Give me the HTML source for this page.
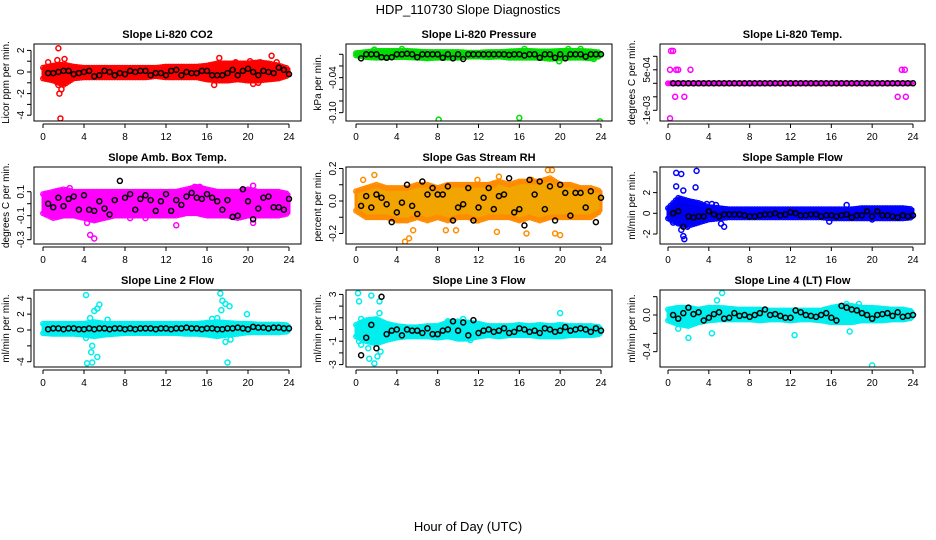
<!DOCTYPE html>
<html><head><meta charset="utf-8"><style>
html,body{margin:0;padding:0;background:#fff;}
svg{display:block;font-family:"Liberation Sans",Arial,sans-serif;}
</style></head><body>
<svg id="chart" width="936" height="540" viewBox="0 0 936 540" xmlns="http://www.w3.org/2000/svg">
<text x="468" y="14" text-anchor="middle" font-size="13">HDP_110730  Slope Diagnostics</text>
<text x="468" y="531" text-anchor="middle" font-size="13">Hour of Day (UTC)</text>
</svg>
<script>
const xTicks = [0,4,8,12,16,20,24];
const blackHours = [0.5,1,1.5,2,2.5,3,3.5,4,4.5,5,5.5,6,6.5,7,7.5,8,8.5,9,9.5,10,10.5,11,11.5,12,12.5,13,13.5,14,14.5,15,15.5,16,16.5,17,17.5,18,18.5,19,19.5,20,20.5,21,21.5,22,22.5,23,23.5,24];
const bandHours = [0,1,2,3,4,5,6,7,8,9,10,11,12,13,14,15,16,17,18,19,20,21,22,23,24];

const co2Lo = [-0.6,-0.8,-1.2,-0.6,-0.5,-0.5,-0.5,-0.5,-0.5,-0.5,-0.5,-0.4,-0.5,-0.5,-0.5,-0.5,-0.7,-0.8,-0.8,-0.7,-0.8,-0.8,-0.7,-0.6,-0.3];
const co2Hi = [0.4,0.6,0.7,0.5,0.4,0.4,0.4,0.4,0.4,0.4,0.4,0.4,0.5,0.5,0.5,0.5,0.6,0.8,0.8,0.8,0.8,0.9,0.8,0.6,0.3];
const co2Out = [[0.5,0.9],[1.5,2.2],[1.4,1.1],[2.1,1.2],[1.6,-2.0],[1.7,-4.3],[1.8,-1.6],[1.5,-1.2],[17.2,1.3],[16.7,-1.2],[20.5,-1.1],[21,-1],[22.3,1.5],[20.2,1.0],[21.2,0.9],[22.8,0.9],[18.8,0.9],[1.3,-0.9],[2.3,-0.6]];
const co2Black = [-0.1,-0.1,0,0.1,0.1,-0.2,-0.1,0,0.1,-0.4,-0.3,0.1,0,-0.3,-0.1,-0.2,0.1,0,0.1,0.1,-0.3,-0.1,-0.1,-0.3,0.1,0.2,-0.3,0,-0.1,-0.1,0.1,0.1,-0.3,-0.3,-0.3,-0.1,0.2,-0.3,0.1,0.3,0,-0.3,0.1,0,-0.1,0.4,0.2,-0.2];

const presLo = [-0.002,-0.005,-0.006,-0.005,-0.005,-0.005,-0.006,-0.007,-0.006,-0.006,-0.006,-0.004,-0.004,-0.005,-0.004,-0.006,-0.006,-0.006,-0.006,-0.008,-0.007,-0.006,-0.006,-0.007,-0.003];
const presHi = [0.002,0.004,0.006,0.006,0.006,0.006,0.005,0.004,0.004,0.004,0.004,0.003,0.003,0.004,0.004,0.005,0.006,0.006,0.005,0.005,0.006,0.006,0.006,0.005,0.003];
const presOut = [[8.1,-0.112],[16,-0.109],[23.9,-0.115],[19.9,-0.012],[4.5,0.009],[1.8,0.008],[16.5,0.009],[20.8,0.009],[22,0.009],[23.3,-0.008]];
const presBlack = [-0.007,0,0,0,-0.005,-0.006,-0.005,0,0,0.001,0,-0.005,0,0,0,0,-0.006,0,-0.007,0,-0.008,0,0,0,0,0,0,0,0,-0.001,0,0,-0.002,0,0,-0.006,0,0,-0.006,0,-0.007,0,0,0,-0.004,0,0,0];

const tempLo = [0,0,0,0,0,0,0,0,0,0,0,0,0,0,0,0,0,0,0,0,0,0,0,0,0];
const tempHi = [0,0,0,0,0,0,0,0,0,0,0,0,0,0,0,0,0,0,0,0,0,0,0,0,0];
const tempOut = [[0.3,0.0012],[0.5,0.0012],[0.2,0.0005],[0.8,0.0005],[1,0.0005],[2.2,0.0005],[0.7,-0.0005],[1.6,-0.0005],[0.2,-0.0013],[22.5,-0.0005],[23.3,-0.0005],[22.9,0.0005],[23.2,0.0005]];
const tempBlack = [0,0,0,0,0,0,0,0,0,0,0,0,0,0,0,0,0,0,0,0,0,0,0,0,0,0,0,0,0,0,0,0,0,0,0,0,0,0,0,0,0,0,0,0,0,0,0,0];

const ambLo = [-0.08,-0.12,-0.1,-0.1,-0.12,-0.14,-0.12,-0.1,-0.1,-0.1,-0.1,-0.1,-0.1,-0.1,-0.08,-0.08,-0.1,-0.1,-0.1,-0.12,-0.1,-0.1,-0.1,-0.1,-0.08];
const ambHi = [0.08,0.1,0.12,0.1,0.1,0.1,0.1,0.1,0.1,0.1,0.1,0.1,0.1,0.1,0.12,0.14,0.12,0.1,0.1,0.1,0.12,0.1,0.1,0.1,0.08];
const ambOut = [[4.6,-0.26],[5,-0.29],[13,-0.18],[20.5,-0.16],[20.5,0.15],[2.6,0.13],[14.8,0.14],[15.3,0.14],[8.5,-0.12],[0.2,-0.08],[4.3,-0.16],[10,-0.12]];
const ambBlack = [0.0,-0.03,0.05,-0.02,0.04,0.06,-0.05,0.07,-0.05,-0.06,0.02,-0.04,-0.09,0.03,0.19,0.05,0.08,-0.05,0.04,0.07,0.03,-0.06,0.02,0.08,-0.06,0.03,-0.01,0.06,0.09,0.05,0.04,0.08,0.05,0.02,-0.05,0.03,-0.11,-0.1,0.12,0.02,-0.13,-0.04,0.05,0.06,-0.03,-0.03,-0.05,0.04];

const rhLo = [-0.06,-0.1,-0.1,-0.1,-0.12,-0.12,-0.1,-0.12,-0.1,-0.12,-0.1,-0.1,-0.12,-0.1,-0.1,-0.1,-0.12,-0.1,-0.12,-0.1,-0.1,-0.1,-0.1,-0.1,-0.06];
const rhHi = [0.06,0.08,0.1,0.08,0.08,0.08,0.1,0.1,0.08,0.1,0.1,0.1,0.1,0.1,0.12,0.1,0.12,0.12,0.12,0.14,0.1,0.1,0.08,0.08,0.06];
const rhOut = [[0.7,0.13],[1.8,0.16],[4.8,-0.25],[5.2,-0.23],[5.6,-0.18],[8.8,-0.18],[9.8,-0.18],[11.8,-0.12],[11.9,0.13],[13.5,0.1],[14,0.15],[19.2,0.19],[18.8,0.19],[19.5,-0.2],[20,-0.21],[16.7,-0.2],[13.8,-0.19],[17.2,0.13]];
const rhBlack = [-0.03,0.03,-0.04,0.04,0.02,-0.02,-0.13,-0.07,-0.01,0.1,-0.03,-0.08,0.12,0.04,0.08,0.04,0.04,0.09,-0.12,-0.04,-0.02,0.08,-0.12,-0.04,0.02,0.08,-0.05,0.03,0.04,0.14,-0.07,-0.05,-0.15,0.13,0.04,0.12,-0.05,0.09,-0.12,0.1,0.05,-0.09,0.05,0.05,-0.04,0.06,-0.13,0.02];

const sfLo = [-0.5,-1,-1.2,-0.9,-0.6,-0.5,-0.4,-0.4,-0.4,-0.4,-0.4,-0.4,-0.4,-0.4,-0.4,-0.4,-0.5,-0.5,-0.5,-0.5,-0.5,-0.5,-0.5,-0.5,-0.4];
const sfHi = [0.5,1.5,1.2,1,0.6,0.5,0.4,0.4,0.4,0.4,0.4,0.4,0.4,0.4,0.4,0.4,0.4,0.4,0.4,0.5,0.5,0.5,0.5,0.5,0.4];
const sfOut = [[2.8,4.1],[0.8,3.9],[1.3,3.8],[2.7,2.5],[0.8,2.6],[1.5,2.2],[1.3,-1.6],[1.5,-2.2],[1.6,-2.5],[1.9,-1.3],[3.8,0.9],[4.3,0.9],[4.7,0.8],[5.2,-1.0],[5.5,-1.3],[17.5,0.8],[15.8,-0.8],[20,-0.6],[1.2,-0.9],[0.5,-0.9]];
const sfBlack = [0,0.2,-1.3,-0.3,-0.4,-0.3,-0.3,0.2,-0.1,-0.3,-0.1,-0.1,-0.1,-0.1,-0.2,-0.3,-0.3,-0.2,-0.1,-0.1,0,-0.2,-0.1,0.1,0,-0.2,-0.2,-0.1,-0.1,-0.3,-0.2,-0.2,-0.3,-0.2,-0.1,-0.4,-0.2,-0.2,0.2,-0.3,0.2,-0.2,-0.2,-0.3,-0.4,-0.2,-0.3,-0.2];

const l2Lo = [-0.4,-0.5,-0.5,-0.5,-0.6,-0.8,-0.6,-0.5,-0.4,-0.4,-0.4,-0.4,-0.4,-0.4,-0.5,-0.5,-0.6,-0.8,-0.6,-0.5,-0.3,-0.3,-0.3,-0.3,-0.2];
const l2Hi = [0.8,0.8,0.8,0.8,0.8,1.0,0.8,0.8,0.8,0.8,0.8,0.8,0.8,0.8,0.8,0.8,0.9,1.0,0.9,0.8,0.8,0.7,0.7,0.7,0.6];
const l2Out = [[4.2,4.4],[4.3,-4.2],[4.8,-4.1],[4.8,-2.0],[4.7,-2.8],[5.3,-3.4],[4.6,1.5],[5,2.4],[5.5,3.2],[5.3,2.7],[6.3,1.3],[4.2,-1],[17.3,4.6],[17.5,3.7],[17.4,2.5],[17.8,3.3],[18.2,3.0],[18,-4.1],[17.8,-1.5],[18.3,-1.2],[16.5,1.4],[17,1.5],[19.9,2.0],[16,0.9]];
const l2Black = [0.1,0.2,0.2,0.1,0.2,0.2,0.1,0.1,0.2,0.1,0.2,0.2,0.1,0.2,0.2,0.1,0.2,0.1,0.2,0.2,0.2,0.1,0.2,0.2,0.1,0.2,0.2,0.3,0.2,0.2,0.1,0.2,0.2,0.1,0.1,0.2,0.2,0.3,0.2,0.1,0.4,0.3,0.3,0.2,0.3,0.3,0.2,0.2];

const l3Lo = [-0.6,-1.0,-1.2,-0.9,-0.7,-0.6,-0.6,-0.6,-0.7,-0.6,-0.8,-0.8,-0.6,-0.5,-0.6,-0.5,-0.5,-0.5,-0.6,-0.6,-0.6,-0.5,-0.5,-0.5,-0.4];
const l3Hi = [0.4,0.8,0.9,0.5,0.3,0.2,0.2,0.3,0.3,0.6,0.7,0.6,0.5,0.3,0.3,0.3,0.4,0.3,0.4,0.3,0.4,0.3,0.3,0.3,0.2];
const l3Out = [[0.2,3.1],[0.3,2.4],[1.5,2.9],[2.3,2.4],[2.3,1.4],[0.5,0.9],[1.8,-2.9],[2.1,-2.3],[2.4,-1.9],[1.3,-2.5],[0.3,-1],[0.5,-1.3],[1.2,-1.6],[20,1.4],[10.5,0.9],[9,0.7],[11.2,-0.9]];
const l3Black = [-2.2,-0.7,0.4,-1.6,2.8,-0.4,-0.1,0,-0.5,0,-0.1,-0.1,-0.3,0.1,-0.4,-0.4,-0.1,0,0.7,-0.1,0.6,-0.5,0.8,-0.3,-0.1,0,-0.2,-0.1,0.1,-0.3,-0.2,0.1,0,-0.2,-0.1,-0.3,0.1,0,-0.2,-0.1,0.2,-0.1,0,0.1,0,-0.2,0.1,-0.1];

const l4Lo = [-0.06,-0.1,-0.12,-0.08,-0.06,-0.05,-0.05,-0.05,-0.05,-0.06,-0.05,-0.05,-0.06,-0.05,-0.05,-0.06,-0.08,-0.08,-0.08,-0.06,-0.06,-0.06,-0.05,-0.05,-0.03];
const l4Hi = [0.06,0.08,0.08,0.06,0.08,0.08,0.07,0.06,0.06,0.06,0.05,0.05,0.05,0.05,0.05,0.05,0.08,0.1,0.1,0.08,0.08,0.07,0.06,0.06,0.04];
const l4Out = [[5.3,0.24],[4.8,0.16],[20,-0.55],[2.0,-0.25],[4.3,-0.2],[12.4,-0.22],[17.8,-0.18],[1,-0.15],[18.7,0.12],[17.5,0.12]];
const l4Black = [0.0,-0.04,0.02,0.08,0.01,0.03,-0.06,-0.03,0.01,0.03,-0.04,-0.03,0.02,-0.01,0.0,-0.02,0.0,0.02,0.06,0.0,0.01,-0.01,-0.03,-0.03,0.05,0.03,0.0,-0.01,-0.02,0.0,0.02,-0.03,-0.06,0.1,0.08,0.06,0.05,0.02,0.0,-0.04,0.0,0.01,0.02,-0.01,0.03,-0.02,-0.01,0.0];

const panels = [
 {name:"co2",title:"Slope Li-820 CO2",ylab:"Licor ppm per min.",col:0,row:0,y0:72,ppu:10.8,ticks:[2,1,0,-1,-2,-3,-4],labels:["2","","0","","-2","","-4"],lo:co2Lo,hi:co2Hi,out:co2Out,blk:co2Black,color:"#ff0000",fill:"#ff0000"},
 {name:"pressure",title:"Slope Li-820 Pressure",ylab:"kPa per min.",col:1,row:0,y0:54.3,ppu:583.5,ticks:[0,-0.02,-0.04,-0.06,-0.08,-0.1],labels:["","","-0.04","","","-0.10"],lo:presLo,hi:presHi,out:presOut,blk:presBlack,color:"#00dd00",fill:"#00e000"},
 {name:"li820-temp",title:"Slope Li-820 Temp.",ylab:"degrees C per min.",col:2,row:0,y0:83.3,ppu:27000,ticks:[0.001,0.0005,0,-0.0005,-0.001],labels:["","5e-04","","","-1e-03"],lo:tempLo,hi:tempHi,out:tempOut,blk:tempBlack,color:"#ff00ff",fill:"#ff00ff"},
 {name:"amb-box-temp",title:"Slope Amb. Box Temp.",ylab:"degrees C per min.",col:0,row:1,y0:203.7,ppu:120,ticks:[0.1,0,-0.1,-0.2,-0.3],labels:["0.1","","-0.1","","-0.3"],lo:ambLo,hi:ambHi,out:ambOut,blk:ambBlack,color:"#ff00ff",fill:"#ff00ff"},
 {name:"gas-stream-rh",title:"Slope Gas Stream RH",ylab:"percent per min.",col:1,row:1,y0:201,ppu:162.5,ticks:[0.2,0.1,0,-0.1,-0.2],labels:["0.2","","0.0","","-0.2"],lo:rhLo,hi:rhHi,out:rhOut,blk:rhBlack,color:"#ff8c00",fill:"#f2a400"},
 {name:"sample-flow",title:"Slope Sample Flow",ylab:"ml/min per min.",col:2,row:1,y0:213.3,ppu:10.35,ticks:[4,2,0,-2],labels:["","2","0","-2"],lo:sfLo,hi:sfHi,out:sfOut,blk:sfBlack,color:"#0000ff",fill:"#0000ee"},
 {name:"line2-flow",title:"Slope Line 2 Flow",ylab:"ml/min per min.",col:0,row:2,y0:330,ppu:7.93,ticks:[4,2,0,-2,-4],labels:["4","2","0","","-4"],lo:l2Lo,hi:l2Hi,out:l2Out,blk:l2Black,color:"#00eeee",fill:"#00eeee"},
 {name:"line3-flow",title:"Slope Line 3 Flow",ylab:"ml/min per min.",col:1,row:2,y0:329.5,ppu:11.7,ticks:[3,2,1,0,-1,-2,-3],labels:["3","","1","","-1","","-3"],lo:l3Lo,hi:l3Hi,out:l3Out,blk:l3Black,color:"#00eeee",fill:"#00eeee"},
 {name:"line4-flow",title:"Slope Line 4 (LT) Flow",ylab:"ml/min per min.",col:2,row:2,y0:315,ppu:91.7,ticks:[0.2,0,-0.2,-0.4],labels:["","0.0","","-0.4"],lo:l4Lo,hi:l4Hi,out:l4Out,blk:l4Black,color:"#00eeee",fill:"#00eeee"}
];
const colBox=[[34,301,43,289],[346,612,356,601],[660,925,668,913]];
const rowBox=[[44,121],[167,244],[290,367]];
const NS="http://www.w3.org/2000/svg";
const svg=document.getElementById('chart');
function mk(tag,attrs,parent){const e=document.createElementNS(NS,tag);for(const k in attrs)e.setAttribute(k,attrs[k]);(parent||svg).appendChild(e);return e;}

panels.forEach(p=>{
  const [bl,br,x0,x24]=colBox[p.col];const [bt,bb]=rowBox[p.row];
  const xs=h=>x0+(x24-x0)*h/24;
  const ys=v=>p.y0-v*p.ppu;
  const g=mk('g',{});
  
  
  const clipId='clip-'+p.name;
  const cp=mk('clipPath',{id:clipId},g);mk('rect',{x:bl,y:bt,width:br-bl,height:bb-bt},cp);
  const plot=mk('g',{'clip-path':'url(#'+clipId+')'},g);
  
  
  // band
  let pts=[];
  bandHours.forEach((h,i)=>pts.push(xs(h).toFixed(1)+','+ys(p.hi[i]).toFixed(1)));
  for(let i=bandHours.length-1;i>=0;i--)pts.push(xs(bandHours[i]).toFixed(1)+','+ys(p.lo[i]).toFixed(1));
  const band=mk('polygon',{points:pts.join(' '),fill:p.fill,stroke:p.color,'stroke-width':3,'stroke-linejoin':'round'},plot);
  
  
  // edge circles
  for(let i=0;i<bandHours.length-1;i++){
    for(let k=0;k<4;k++){
      const t=k/4,h=bandHours[i]+t;
      const lo=p.lo[i]+(p.lo[i+1]-p.lo[i])*t,hi=p.hi[i]+(p.hi[i+1]-p.hi[i])*t;
      [lo,hi].forEach(v=>{
        const c=mk('circle',{cx:xs(h),cy:ys(v),r:2.3,fill:'none',stroke:p.color,'stroke-width':1.3},plot);
        
        
      });
    }
  }
  p.out.forEach(o=>{
    const c=mk('circle',{cx:xs(o[0]),cy:ys(o[1]),r:2.5,fill:'none',stroke:p.color,'stroke-width':1.5},plot);
    
    
  });
  p.blk.forEach((v,i)=>{
    const c=mk('circle',{cx:xs(blackHours[i]),cy:ys(v),r:2.5,fill:'none',stroke:'#000','stroke-width':1.5},plot);
    
    
  });
  // box
  const box=mk('rect',{x:bl,y:bt,width:br-bl,height:bb-bt,fill:'none',stroke:'#000','stroke-width':1},g);
  
  
  // title
  const t=mk('text',{x:(bl+br)/2,y:bt-6,'text-anchor':'middle','font-size':11,'font-weight':'bold'},g);
  t.textContent=p.title;
  
  
  // x axis
  const xa=mk('g',{},g);
  
  
  mk('line',{x1:xs(0),x2:xs(24),y1:bb+3,y2:bb+3,stroke:'#000'},xa);
  xTicks.forEach(v=>{
    mk('line',{x1:xs(v),x2:xs(v),y1:bb+3,y2:bb+7,stroke:'#000'},xa);
    const l=mk('text',{x:xs(v),y:bb+19,'text-anchor':'middle','font-size':10},xa);
    l.textContent=v;
    
    
  });
  // y axis
  const ya=mk('g',{},g);
  
  
  const ax=bl-3;
  mk('line',{x1:ax,x2:ax,y1:ys(p.ticks[0]),y2:ys(p.ticks[p.ticks.length-1]),stroke:'#000'},ya);
  p.ticks.forEach((v,i)=>{
    const y=ys(v);
    mk('line',{x1:ax-4,x2:ax,y1:y,y2:y,stroke:'#000'},ya);
    if(p.labels[i]){
      const l=mk('text',{x:ax-7,y:y,'text-anchor':'middle','font-size':10,transform:'rotate(-90 '+(ax-7)+' '+y+')'},ya);
      l.textContent=p.labels[i];
      
      
    }
  });
  const yl=mk('text',{x:bl-25,y:(bt+bb)/2,'text-anchor':'middle','font-size':10,transform:'rotate(-90 '+(bl-25)+' '+((bt+bb)/2)+')'},g);
  yl.textContent=p.ylab;
  
  
});
</script>
</body></html>
